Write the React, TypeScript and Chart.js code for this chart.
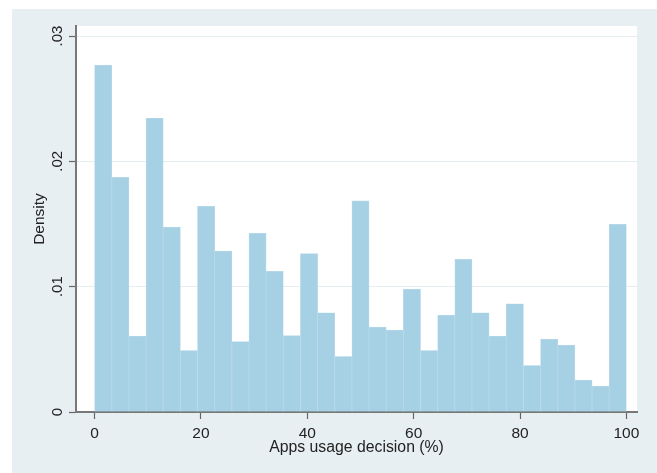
import React, { useEffect, useRef } from "react";
import { Chart, registerables } from "chart.js";

Chart.register(...registerables);

// ---- data ----
const binCount = 31;
const binStart = 0;
const binEnd = 100;
const densities = [
  0.02768, 0.01873, 0.00606, 0.02344, 0.01476, 0.00491, 0.01641, 0.01285,
  0.00561, 0.01426, 0.01123, 0.00609, 0.01264, 0.00792, 0.00443, 0.01684,
  0.00677, 0.00653, 0.00981, 0.00491, 0.00772, 0.01218, 0.00792, 0.00606,
  0.00864, 0.00371, 0.00582, 0.00534, 0.00254, 0.00206, 0.01498,
];
const xTickValues = [0, 20, 40, 60, 80, 100];
const yTickValues = [0, 0.01, 0.02, 0.03];
const yTickLabels = ["0", ".01", ".02", ".03"];
const xTitle = "Apps usage decision (%)";
const yTitle = "Density";

const FONT = "'Liberation Sans', Arial, sans-serif";
const TEXT = "#222222";

export default function App() {
  const ref = useRef<HTMLCanvasElement | null>(null);

  useEffect(() => {
    const canvas = ref.current;
    if (!canvas) return;
    const bw = (binEnd - binStart) / binCount;
    const points = densities.map((d, i) => ({ x: binStart + bw * i + bw / 2, y: d }));

    const bgPlugin = {
      id: "bgPlugin",
      beforeDraw(chart: any) {
        const { ctx, chartArea, width, height } = chart;
        ctx.save();
        ctx.fillStyle = "#ffffff";
        ctx.fillRect(0, 0, width, height);
        ctx.fillStyle = "#E8EFF2";
        ctx.fillRect(12, 9, width - 12, height - 9);
        ctx.fillStyle = "#ffffff";
        ctx.fillRect(chartArea.left, chartArea.top, chartArea.right - chartArea.left, chartArea.bottom - chartArea.top);
        ctx.restore();
      },
      afterDraw(chart: any) {
        const { ctx, chartArea } = chart;
        const ys = chart.scales.y;
        ctx.save();
        ctx.fillStyle = TEXT;
        ctx.font = `15px ${FONT}`;
        ctx.textAlign = "center";
        ctx.textBaseline = "middle";
        yTickValues.forEach((v, i) => {
          const py = ys.getPixelForValue(v);
          ctx.save();
          ctx.translate(58, py);
          ctx.rotate(-Math.PI / 2);
          ctx.fillText(yTickLabels[i], 0, 0);
          ctx.restore();
        });
        ctx.font = `15.5px ${FONT}`;
        ctx.save();
        ctx.translate(40, 219);
        ctx.rotate(-Math.PI / 2);
        ctx.fillText(yTitle, 0, 0);
        ctx.restore();
        ctx.font = `15.8px ${FONT}`;
        ctx.fillText(xTitle, (chartArea.left + chartArea.right) / 2, 447.5);
        ctx.restore();
      },
    };

    const chart = new Chart(canvas, {
      type: "bar",
      data: {
        datasets: [
          {
            data: points,
            backgroundColor: "#A6D0E4",
            borderColor: "#BBDAEA",
            borderWidth: 0.7,
            barPercentage: 1,
            categoryPercentage: 1,
            grouped: false,
          } as any,
        ],
      },
      options: {
        animation: false,
        responsive: false,
        maintainAspectRatio: false,
        layout: { padding: { top: 26, right: 20, left: 0, bottom: 0 } },
        plugins: { legend: { display: false }, tooltip: { enabled: false } },
        scales: {
          x: {
            type: "linear",
            offset: false,
            min: -3.5,
            max: 102,
            afterBuildTicks: (s: any) => {
              s.ticks = xTickValues.map((v) => ({ value: v }));
            },
            afterFit: (s: any) => {
              s.height = 61;
            },
            ticks: {
              color: TEXT,
              font: { size: 15.5, family: FONT },
              padding: 5,
              maxRotation: 0,
              autoSkip: false,
            },
            grid: {
              offset: false,
              drawOnChartArea: false,
              drawTicks: true,
              tickLength: 7,
              tickColor: "#666666",
              tickWidth: 1.2,
            },
            border: { color: "#777777", width: 2 },
          },
          y: {
            type: "linear",
            min: 0,
            max: 0.0308,
            afterBuildTicks: (s: any) => {
              s.ticks = yTickValues.map((v) => ({ value: v }));
            },
            afterFit: (s: any) => {
              s.width = 76;
            },
            ticks: { display: false },
            grid: {
              color: "#E6EDF1",
              lineWidth: 1,
              drawTicks: true,
              tickLength: 7,
              tickColor: "#666666",
              tickWidth: 1.2,
            },
            border: { color: "#777777", width: 2 },
          },
        },
      },
      plugins: [bgPlugin],
    });
    return () => chart.destroy();
  }, []);

  return (
    <div style={{ position: "fixed", left: 0, top: 0, width: 657, height: 473, background: "#fff" }}>
      <canvas ref={ref} width={657} height={473} style={{ display: "block", width: 657, height: 473 }} />
    </div>
  );
}
